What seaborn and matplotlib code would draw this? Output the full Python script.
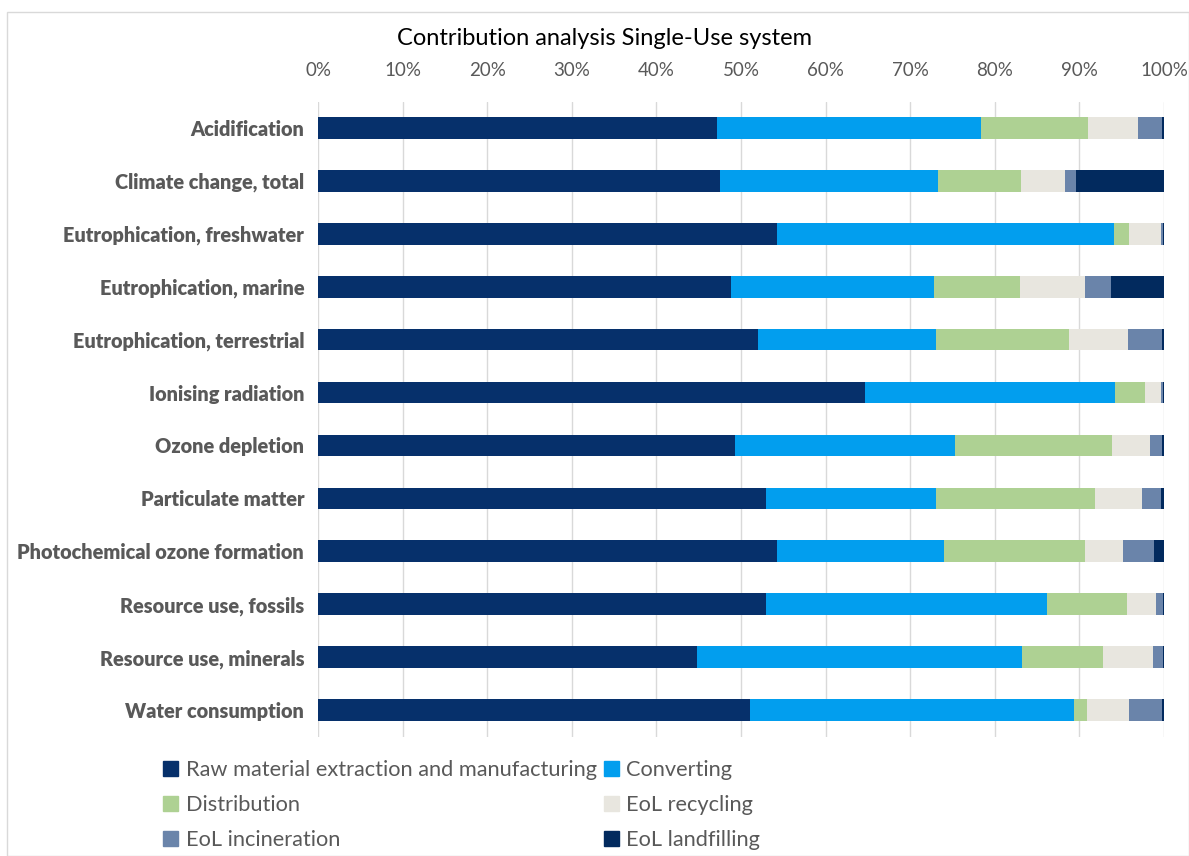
"""Contribution analysis of the single-use system (stacked horizontal bars)."""

import matplotlib.pyplot as plt
import matplotlib.patches as mpatches
import pandas as pd
import seaborn as sns
from matplotlib.ticker import PercentFormatter

CATEGORIES = [
    "Acidification",
    "Climate change, total",
    "Eutrophication, freshwater",
    "Eutrophication, marine",
    "Eutrophication, terrestrial",
    "Ionising radiation",
    "Ozone depletion",
    "Particulate matter",
    "Photochemical ozone formation",
    "Resource use, fossils",
    "Resource use, minerals",
    "Water consumption",
]

STAGES = [
    "Raw material extraction and manufacturing",
    "Converting",
    "Distribution",
    "EoL recycling",
    "EoL incineration",
    "EoL landfilling",
]

# shares in percent
raw_material = [47.2, 47.5, 54.2, 48.8, 52.0, 64.7, 49.3, 53.0, 54.2, 52.9, 44.8, 51.1]
converting = [31.2, 25.8, 39.9, 24.0, 21.0, 29.5, 26.0, 20.0, 19.8, 33.3, 38.4, 38.2]
distribution = [12.6, 9.8, 1.8, 10.2, 15.8, 3.6, 18.5, 18.8, 16.6, 9.4, 9.6, 1.6]
eol_recycling = [5.9, 5.2, 3.7, 7.6, 6.9, 1.8, 4.6, 5.6, 4.6, 3.5, 5.9, 5.0]
eol_incineration = [2.9, 1.3, 0.3, 3.1, 4.1, 0.3, 1.4, 2.3, 3.6, 0.8, 1.2, 3.9]
eol_landfilling = [0.2, 10.4, 0.1, 6.3, 0.2, 0.1, 0.2, 0.3, 1.2, 0.1, 0.1, 0.2]

COLORS = ["#06306b", "#029eee", "#aed193", "#e8e6df", "#6a84aa", "#022a5e"]
TEXT_GREY = "#595959"
FONT = "Lato"


def main():
    df = pd.DataFrame(
        {
            "category": CATEGORIES,
            STAGES[0]: raw_material,
            STAGES[1]: converting,
            STAGES[2]: distribution,
            STAGES[3]: eol_recycling,
            STAGES[4]: eol_incineration,
            STAGES[5]: eol_landfilling,
        }
    )
    # normalise each row to 100 %
    totals = df[STAGES].sum(axis=1)
    df[STAGES] = df[STAGES].div(totals, axis=0) * 100
    cum = df[STAGES].cumsum(axis=1)

    sns.set_theme(style="white")
    plt.rcParams["font.family"] = [FONT, "DejaVu Sans"]

    fig = plt.figure(figsize=(11.89, 8.56), dpi=100)
    ax = fig.add_axes([0.2675, 0.1396, 0.7115, 0.7418])

    # draw cumulative bars from the longest down so each stage shows as a segment
    for stage, color in reversed(list(zip(STAGES, COLORS))):
        sns.barplot(
            x=cum[stage],
            y=df["category"],
            orient="h",
            color=color,
            saturation=1,
            width=0.41,
            linewidth=0,
            ax=ax,
            zorder=3,
        )

    ax.set_xlim(0, 100)
    ax.set_ylim(len(CATEGORIES) - 0.5, -0.5)
    ax.set_xticks(range(0, 101, 10))
    ax.xaxis.set_major_formatter(PercentFormatter(decimals=0))
    ax.xaxis.tick_top()
    ax.grid(axis="x", color="#d9d9d9", linewidth=1, zorder=0)
    ax.grid(axis="y", visible=False)
    for spine in ax.spines.values():
        spine.set_visible(False)
    ax.set_xlabel("")
    ax.set_ylabel("")
    ax.tick_params(axis="x", length=0, pad=16, labelsize=13.5, labelcolor=TEXT_GREY)
    ax.tick_params(axis="y", length=0, pad=10, labelsize=14.3, labelcolor=TEXT_GREY)
    for label in ax.get_yticklabels():
        label.set_fontweight("heavy")

    fig.text(0.508, 0.955, "Contribution analysis Single-Use system",
             ha="center", va="center", fontsize=17, color="black")

    handles = [mpatches.Patch(color=c, label=s) for s, c in zip(STAGES, COLORS)]
    order = [0, 2, 4, 1, 3, 5]
    fig.legend(
        [handles[i] for i in order],
        [STAGES[i] for i in order],
        ncol=2,
        loc="upper left",
        bbox_to_anchor=(0.128, 0.125),
        frameon=False,
        fontsize=15.7,
        labelcolor=TEXT_GREY,
        handlelength=0.7,
        handleheight=0.7,
        handletextpad=0.35,
        columnspacing=0.3,
        labelspacing=0.7,
        borderpad=0,
    )

    fig.patches.append(
        mpatches.Rectangle((7 / 1189, 0), 1 - 7 / 1189, 1 - 12 / 856,
                           transform=fig.transFigure, fill=False,
                           edgecolor="#d9d9d9", linewidth=1)
    )

    fig.savefig("out.png", dpi=100)
    plt.close(fig)


if __name__ == "__main__":
    main()
